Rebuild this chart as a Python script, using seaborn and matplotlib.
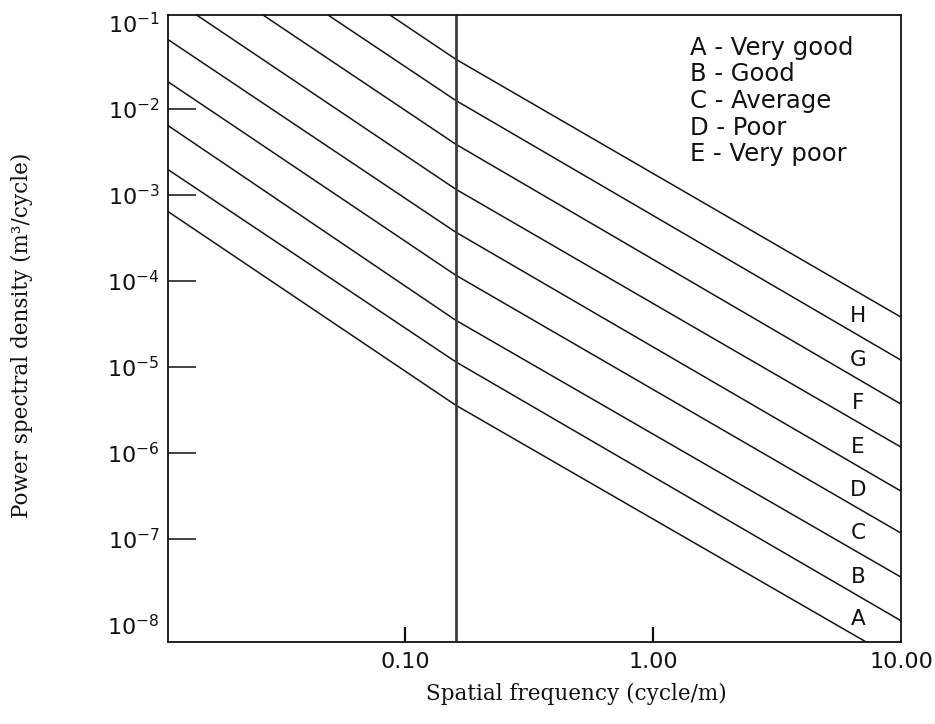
import numpy as np
import pandas as pd
import seaborn as sns
import matplotlib
matplotlib.use("Agg")
from matplotlib import pyplot as plt

# spatial frequency points (cycle/m): left edge, break frequency n0, right edge
freq_points = [0.011, 0.16, 10.0]
n0 = 0.16

# class boundary lines, PSD (m^3/cycle) read at freq_points
boundary_1 = [6.8e0, 3.8e-2, 3.8e-5]
boundary_2 = [2.2e0, 1.26e-2, 1.2e-5]
boundary_3 = [6.9e-1, 3.9e-3, 3.7e-6]
boundary_4 = [2.1e-1, 1.17e-3, 1.17e-6]
boundary_5 = [6.5e-2, 3.7e-4, 3.6e-7]
boundary_6 = [2.1e-2, 1.17e-4, 1.17e-7]
boundary_7 = [6.5e-3, 3.5e-5, 3.6e-8]
boundary_8 = [2.0e-3, 1.15e-5, 1.12e-8]
boundary_9 = [6.5e-4, 3.6e-6, 3.7e-9]

class_labels = ["H", "G", "F", "E", "D", "C", "B", "A"]
legend_lines = ["A - Very good", "B - Good", "C - Average", "D - Poor", "E - Very poor"]

x_ticks = [0.1, 1.0, 10.0]
x_tick_labels = ["0.10", "1.00", "10.00"]
y_exponents = [-1, -2, -3, -4, -5, -6, -7, -8]

boundaries = [boundary_1, boundary_2, boundary_3, boundary_4, boundary_5,
              boundary_6, boundary_7, boundary_8, boundary_9]

rows = []
for i, vals in enumerate(boundaries):
    for f, v in zip(freq_points, vals):
        rows.append({"freq": f, "psd": v, "line": i})
df = pd.DataFrame(rows)

sns.set_theme(style="white")
plt.rcParams["font.family"] = ["DejaVu Sans"]

fig = plt.figure(figsize=(9.35, 7.24), dpi=100)
ax = fig.add_axes([168 / 935, 1 - 642 / 724, 733 / 935, 627 / 724])
ax.set_xscale("log")
ax.set_yscale("log")

sns.lineplot(data=df, x="freq", y="psd", units="line", estimator=None,
             color="#151515", linewidth=1.1, sort=False, ax=ax, legend=False)
ax.axvline(n0, color="#3c3c3c", linewidth=2.0)

ax.set_xlim(0.01107, 10.0)
ax.set_ylim(10 ** -8.198, 10 ** -0.907)
ax.minorticks_off()

ax.set_xticks(x_ticks)
ax.set_xticklabels(x_tick_labels)
ax.set_yticks([10.0 ** e for e in y_exponents])
ax.set_yticklabels([rf"$10^{{{e}}}$" for e in y_exponents])

ax.tick_params(axis="y", direction="in", length=20, width=1.1, pad=6,
               labelsize=16, left=True, colors="#111111")
ax.tick_params(axis="x", direction="in", length=11, width=1.6, pad=7,
               labelsize=16, bottom=True, colors="#111111")
yt = ax.yaxis.get_major_ticks()
yt[0].tick1line.set_visible(False)
yt[-1].tick1line.set_visible(False)
ax.xaxis.get_major_ticks()[-1].tick1line.set_visible(False)

for s in ax.spines.values():
    s.set_color("#111111")
    s.set_linewidth(1.3)

# class letters placed between neighbouring boundaries
lx = 6.7
lx_log = np.log10(lx)
f_log = np.log10(freq_points)
for i, lab in enumerate(class_labels):
    up = np.interp(lx_log, f_log, np.log10(boundaries[i]))
    lo = np.interp(lx_log, f_log, np.log10(boundaries[i + 1]))
    ax.text(lx, 10 ** ((up + lo) / 2 - 0.03), lab, ha="center", va="center",
            fontsize=15.5, color="#111111")

ax.text(0.712, 0.967, "\n".join(legend_lines), transform=ax.transAxes,
        ha="left", va="top", fontsize=17.5, linespacing=1.14, color="#111111")

ax.set_xlabel("Spatial frequency (cycle/m)", fontsize=15.5,
              family="DejaVu Serif", color="#111111")
ax.set_ylabel("Power spectral density (m³/cycle)", fontsize=15.5,
              family="DejaVu Serif", color="#111111")
ax.xaxis.set_label_coords((576 - 168) / 733, -(694 - 642) / 627)
ax.xaxis.label.set_verticalalignment("center")
ax.yaxis.set_label_coords(-(168 - 22) / 733, (642 - 335) / 627)
ax.yaxis.label.set_verticalalignment("center")

fig.savefig("out.png", dpi=100)
